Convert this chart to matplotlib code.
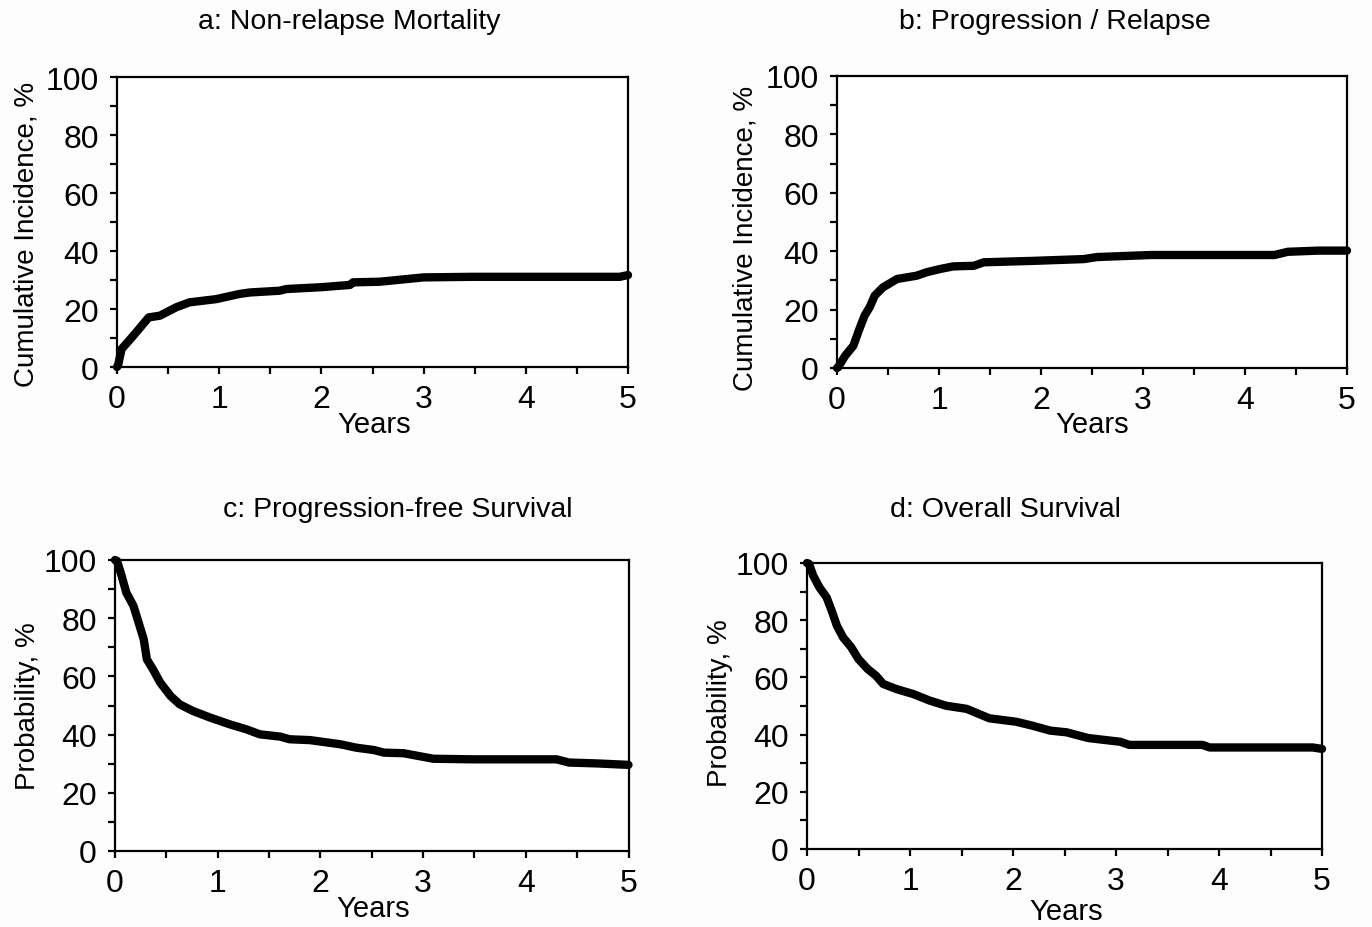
import matplotlib
matplotlib.use("Agg")
import matplotlib.pyplot as plt
from matplotlib.ticker import MultipleLocator, FuncFormatter

plt.rcParams['font.family'] = ['Liberation Sans', 'DejaVu Sans']

# ---- data (years, percent) ----
nrm_years = [0.0, 0.01, 0.045, 0.16, 0.31, 0.42, 0.58, 0.71, 0.97, 1.20, 1.30, 1.59, 1.66,
             1.99, 2.28, 2.31, 2.57, 2.77, 3.0, 3.49, 4.92, 5.0]
nrm_pct = [0.0, 0.5, 6.2, 10.8, 17.1, 17.7, 20.6, 22.3, 23.4, 25.2, 25.7, 26.3, 26.9,
           27.5, 28.3, 29.2, 29.4, 30.1, 30.9, 31.1, 31.1, 31.7]

rel_years = [0.0, 0.01, 0.08, 0.16, 0.22, 0.27, 0.32, 0.37, 0.45, 0.59, 0.78, 0.88, 1.01,
             1.14, 1.34, 1.44, 1.93, 2.42, 2.55, 3.08, 4.29, 4.42, 4.72, 5.0]
rel_pct = [0.0, 0.2, 4.2, 7.6, 13.4, 17.9, 20.8, 24.8, 27.6, 30.5, 31.6, 32.8, 33.9,
           34.8, 35.0, 36.2, 36.7, 37.3, 38.0, 38.7, 38.7, 39.8, 40.2, 40.2]

pfs_years = [0.0, 0.02, 0.065, 0.11, 0.18, 0.23, 0.28, 0.31, 0.37, 0.44, 0.54, 0.63, 0.76,
             0.93, 1.12, 1.28, 1.41, 1.61, 1.70, 1.90, 2.19, 2.35, 2.52, 2.62, 2.81,
             3.10, 3.49, 4.30, 4.42, 4.69, 5.0]
pfs_pct = [100.0, 99.7, 94.5, 88.8, 84.2, 78.5, 72.7, 65.9, 62.4, 57.9, 53.3, 50.4, 48.1,
           45.8, 43.5, 41.8, 40.1, 39.3, 38.4, 38.1, 36.7, 35.5, 34.7, 33.8, 33.6,
           31.7, 31.5, 31.5, 30.4, 30.1, 29.6]

os_years = [0.0, 0.02, 0.06, 0.12, 0.19, 0.24, 0.29, 0.35, 0.43, 0.50, 0.59, 0.67, 0.74,
            0.87, 1.03, 1.19, 1.35, 1.55, 1.77, 2.03, 2.19, 2.36, 2.52, 2.73, 3.04,
            3.13, 3.84, 3.91, 4.91, 5.0]
os_pct = [100.0, 99.7, 95.6, 91.5, 88.0, 83.3, 78.1, 74.0, 70.5, 66.4, 62.9, 60.6, 57.7,
          55.9, 54.2, 51.9, 50.1, 49.0, 45.7, 44.5, 43.1, 41.4, 40.8, 38.8, 37.5,
          36.4, 36.4, 35.5, 35.5, 35.0]

titles = ["a: Non-relapse Mortality", "b: Progression / Relapse",
          "c: Progression-free Survival", "d: Overall Survival"]
ylabels = ["Cumulative Incidence, %", "Cumulative Incidence, %",
           "Probability, %", "Probability, %"]
xlabel = "Years"
x_ticklabels = ["0", "1", "2", "3", "4", "5"]
y_ticklabels = ["0", "20", "40", "60", "80", "100"]

series = [(nrm_years, nrm_pct), (rel_years, rel_pct),
          (pfs_years, pfs_pct), (os_years, os_pct)]

W, H = 1372, 928
fig = plt.figure(figsize=(W / 100, H / 100), dpi=100, facecolor='#fdfdfd')

# axes boxes in pixels: left, right, top, bottom
boxes = [(117, 628, 78, 368), (837, 1347, 77, 369),
         (115, 628.5, 561, 852), (807, 1322, 564, 850)]
title_pos = [(349, 22), (1055, 22), (398, 510), (1005, 510)]
ylabel_pos = [(27, 234), (745, 238), (28, 706), (720, 703)]
xlabel_pos = [(374, 425), (1092, 425), (373, 909), (1066, 912)]

for i, ((xs, ys), (l, r, t, b)) in enumerate(zip(series, boxes)):
    ax = fig.add_axes([l / W, 1 - b / H, (r - l) / W, (b - t) / H])
    ax.set_facecolor('white')
    ax.plot(xs, ys, color='black', lw=6, solid_capstyle='round',
            solid_joinstyle='round', clip_on=False, zorder=3)
    ax.set_xlim(0, 5)
    ax.set_ylim(0, 100)
    ax.xaxis.set_major_locator(MultipleLocator(0.5))
    ax.yaxis.set_major_locator(MultipleLocator(10))
    ax.xaxis.set_major_formatter(FuncFormatter(
        lambda v, p: x_ticklabels[int(round(v))] if abs(v - round(v)) < 1e-6 else ""))
    ax.yaxis.set_major_formatter(FuncFormatter(
        lambda v, p: y_ticklabels[int(round(v / 20))] if abs(v / 20 - round(v / 20)) < 1e-6 else ""))
    for s in ax.spines.values():
        s.set_linewidth(1.6)
        s.set_color('black')
    ax.tick_params(direction='out', length=5, width=1.6, labelsize=23, colors='black')
    ax.tick_params(axis='x', pad=7)
    ax.tick_params(axis='y', pad=8)
    fig.text(title_pos[i][0] / W, 1 - title_pos[i][1] / H, titles[i],
             ha='center', va='center', fontsize=20.5)
    fig.text(ylabel_pos[i][0] / W, 1 - ylabel_pos[i][1] / H, ylabels[i],
             ha='center', va='center', rotation=90, fontsize=20)
    fig.text(xlabel_pos[i][0] / W, 1 - xlabel_pos[i][1] / H, xlabel,
             ha='center', va='center', fontsize=21)

fig.savefig("out.png", dpi=100, facecolor=fig.get_facecolor())
